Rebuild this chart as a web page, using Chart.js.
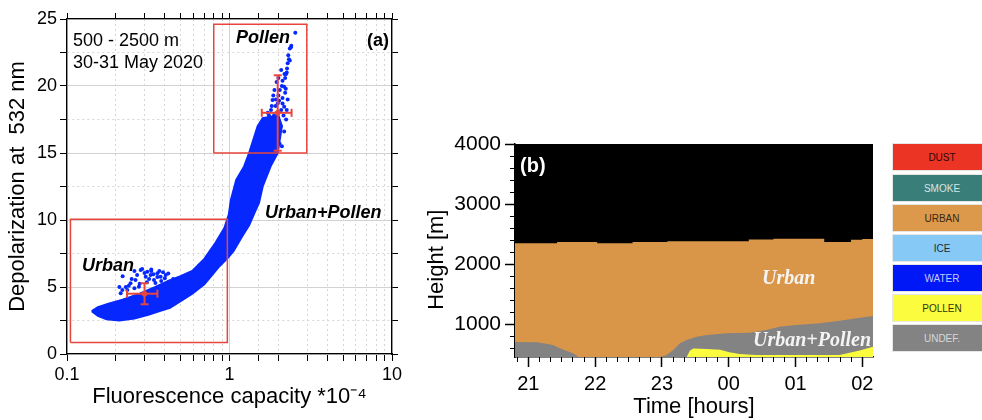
<!DOCTYPE html>
<html lang="en">
<head>
  <meta charset="UTF-8">
  <title>Depolarization vs fluorescence capacity</title>
  <script src="https://cdn.jsdelivr.net/npm/chart.js"></script>
  <style>
    body {
      margin: 0;
      width: 982px;
      height: 420px;
      position: relative;
      overflow: hidden;
      background: #fff;
      font-family: "Liberation Sans", Arial, sans-serif;
    }
    canvas { position: absolute; top: 0; }
    #scatterChart { left: 0; }
    #typingChart { left: 420px; }

    .note { position: absolute; white-space: nowrap; line-height: 1; color: #000; font-size: 18px; }
    .bi { font-weight: bold; font-style: italic; }
    .serif { font-family: "Liberation Serif", "Times New Roman", serif; font-weight: bold; font-style: italic; font-size: 20px; color: #f4f4f4; }

    .legend-box {
      position: absolute;
      left: 892px;
      width: 100px;
      height: 28px;
      display: flex;
      align-items: center;
      justify-content: center;
      font-size: 10px;
      box-sizing: border-box;
      border: 1px solid #e6e6e6;
    }
  </style>
</head>
<body>
  <canvas id="scatterChart" width="420" height="420"></canvas>
  <canvas id="typingChart" width="470" height="420"></canvas>

  <!-- panel (a) notes -->
  <div class="note" style="left:73px; top:31px;">500 - 2500 m</div>
  <div class="note" style="left:73px; top:53px;">30-31 May 2020</div>
  <div class="note" style="left:367px; top:31px; font-weight:bold;">(a)</div>
  <div class="note bi" style="left:236px; top:28px;">Pollen</div>
  <div class="note bi" style="left:265px; top:203px;">Urban+Pollen</div>
  <div class="note bi" style="left:82px; top:256px;">Urban</div>

  <!-- panel (b) notes -->
  <div class="note" style="left:520px; top:155px; font-size:20px; font-weight:bold; color:#fff;">(b)</div>
  <div class="note serif" style="left:762px; top:267px;">Urban</div>
  <div class="note serif" style="left:753px; top:329px;">Urban+Pollen</div>

  <div id="legend"></div>

  <script>
    // ---- panel (a): depolarization vs fluorescence capacity ----
    // outline of the dense point cloud
    const cloudX = [0.142, 0.155, 0.175, 0.21, 0.26, 0.32, 0.38, 0.43, 0.5, 0.59,
                    0.7, 0.86, 0.98, 1.06, 1.2, 1.32, 1.42, 1.52, 1.6, 1.79,
                    1.98, 2.1, 2.0, 1.6, 1.49, 1.32, 1.23, 1.1, 1.02, 0.99,
                    0.93, 0.82, 0.7, 0.59, 0.5, 0.42, 0.35, 0.28, 0.22, 0.18,
                    0.155, 0.142];
    const cloudY = [3.2, 2.85, 2.6, 2.5, 2.65, 2.95, 3.25, 3.45, 3.95, 4.5,
                    5.2, 6.5, 7.2, 7.7, 8.8, 9.6, 10.5, 11.3, 12.5, 14.0,
                    15.0, 17.0, 17.8, 17.6, 17.0, 15.0, 14.0, 13.0, 11.5, 10.4,
                    9.4, 8.3, 7.1, 6.2, 5.8, 5.45, 5.0, 4.5, 4.05, 3.75,
                    3.5, 3.2];

    // single points outside the dense cloud
    const dotX = [0.284, 0.312, 0.327, 0.36, 0.377, 0.405, 0.343, 0.305, 0.264, 0.246,
                  0.277, 0.219, 0.214, 0.235, 0.424, 0.444, 0.29, 0.33, 0.39, 0.22,
                  0.26, 0.35, 0.23, 0.25, 0.27, 0.3, 0.32, 0.34, 0.37, 0.4,
                  0.42, 0.38, 0.31, 0.28, 0.24, 0.21, 0.36, 0.45, 0.33, 0.26,
                  2.54, 2.39, 2.35, 2.28, 2.35, 2.23, 2.12, 2.17, 2.04, 1.89,
                  2.12, 2.2, 1.98, 1.84, 1.8, 2.17, 2.23, 1.76, 1.68, 2.07,
                  1.63, 2.17, 2.03, 1.6, 2.1, 2.3, 2.26, 2.2, 2.1, 1.95,
                  2.0, 1.92, 2.08, 1.88, 2.15, 1.72, 1.95, 2.0, 2.08, 2.28,
                  2.25, 1.7, 1.75, 1.82, 1.86, 1.93, 2.02, 2.12, 2.22, 2.18,
                  2.25, 2.32, 2.4, 1.9, 2.0, 1.85, 1.78];
    const dotY = [6.27, 6.14, 5.9, 6.02, 5.77, 5.9, 5.52, 5.77, 5.52, 5.28,
                  5.02, 4.78, 4.53, 4.78, 5.4, 5.15, 6.35, 6.2, 6.1, 5.8,
                  4.9, 5.3, 5.0, 5.6, 5.9, 6.05, 5.6, 5.95, 6.2, 5.65,
                  6.0, 5.45, 5.35, 5.25, 5.1, 5.0, 5.75, 5.6, 6.3, 6.2,
                  23.98, 22.9, 22.8, 21.7, 21.9, 20.9, 20.4, 19.95, 19.7, 19.7,
                  19.1, 19.5, 18.7, 18.96, 18.2, 18.45, 17.5, 17.5, 17.0, 17.0,
                  16.2, 16.6, 15.7, 15.5, 15.5, 22.3, 21.3, 20.6, 20.0, 20.3,
                  19.3, 18.5, 18.2, 17.8, 17.8, 18.0, 17.3, 20.6, 21.2, 19.0,
                  18.2, 16.9, 17.8, 18.5, 19.3, 19.0, 18.9, 18.7, 19.8, 20.9,
                  21.0, 22.0, 23.0, 17.0, 16.4, 16.1, 16.8];

    // selection boxes [min, max]
    const urbanBoxX = [0.105, 0.97];
    const urbanBoxY = [0.85, 10.05];
    const pollenBoxX = [0.8, 2.99];
    const pollenBoxY = [15.0, 24.6];

    // mean and spread of each type
    const urbanMean = [0.3, 4.5];
    const urbanSpreadX = [0.234, 0.36];
    const urbanSpreadY = [3.71, 5.28];
    const pollenMean = [1.98, 18.0];
    const pollenSpreadX = [1.58, 2.41];
    const pollenSpreadY = [15.17, 20.8];

    // ---- panel (b): aerosol typing, tops of each layer [m] ----
    const urbanTopTime = [20.8, 21.43, 22.03, 22.56, 23.08, 24.3, 24.67, 25.43, 25.83, 26.0, 26.16];
    const urbanTop = [2345, 2365, 2345, 2365, 2380, 2410, 2420, 2365, 2405, 2415, 2430];

    const undefTopTime = [20.8, 21.13, 21.22, 21.37, 21.47, 21.57, 21.67, 21.75, 22.97, 23.07,
                          23.17, 23.27, 23.37, 23.52, 23.67, 23.97, 24.31, 24.56, 24.76, 25.01,
                          25.36, 25.66, 25.91, 26.16];
    const undefTop = [700, 695, 678, 650, 595, 555, 511, 450, 450, 483,
                      567, 678, 733, 789, 817, 845, 856, 900, 956, 983,
                      1011, 1056, 1094, 1133];

    const pollenTopTime = [23.37, 23.42, 23.47, 23.67, 23.87, 24.01, 24.16, 24.41, 25.66, 25.76, 25.96, 26.16];
    const pollenTop = [450, 560, 590, 585, 570, 530, 500, 485, 485, 510, 560, 620];

    const hourTicks = [21, 22, 23, 24, 25, 26];
    const hourLabels = ['21', '22', '23', '00', '01', '02'];
    const heightTicks = [1000, 2000, 3000, 4000];

    const legendNames = ['DUST', 'SMOKE', 'URBAN', 'ICE', 'WATER', 'POLLEN', 'UNDEF.'];
    const legendColors = ['#ec3424', '#3a7e79', '#dc994c', '#86c9f6', '#0018f6', '#fcfc3e', '#838383'];
    const legendText = ['#2a0a08', '#d4e6e3', '#3a2812', '#1e2a3a', '#c2c8ff', '#33330a', '#d8d8d8'];

    const BLUE = '#0628ff';
    const RED = '#e8463d';

    function pts(xs, ys) {
      return xs.map((x, i) => ({ x: x, y: ys[i] }));
    }
    function box(bx, by) {
      return [
        { x: bx[0], y: by[0] }, { x: bx[1], y: by[0] },
        { x: bx[1], y: by[1] }, { x: bx[0], y: by[1] },
        { x: bx[0], y: by[0] }
      ];
    }
    function isPow10(v) {
      const l = Math.log10(v);
      return Math.abs(l - Math.round(l)) < 1e-6;
    }

    function spreadSets(mean, sx, sy) {
      return [
        {
          data: [{ x: sx[0], y: mean[1] }, { x: sx[1], y: mean[1] }],
          showLine: true, borderColor: RED, borderWidth: 2,
          pointStyle: 'line', rotation: 90, pointRadius: 4,
          pointBorderColor: RED, pointBorderWidth: 2
        },
        {
          data: [{ x: mean[0], y: sy[0] }, { x: mean[0], y: sy[1] }],
          showLine: true, borderColor: RED, borderWidth: 2,
          pointStyle: 'line', rotation: 0, pointRadius: 4,
          pointBorderColor: RED, pointBorderWidth: 2
        },
        {
          data: [{ x: mean[0], y: mean[1] }],
          pointRadius: 2.5, backgroundColor: RED, borderColor: RED
        }
      ];
    }

    const font = "'Liberation Sans', Arial, sans-serif";
    Chart.defaults.font.family = font;
    Chart.defaults.color = '#000';

    const minorDash = (c) => (c.tick && !isPow10(c.tick.value)) ? [2, 3] : [];
    const minorDashY = (c) => (c.tick && c.tick.value % 5 !== 0) ? [2, 3] : [];

    new Chart(document.getElementById('scatterChart'), {
      type: 'scatter',
      data: {
        datasets: [
          ...spreadSets(urbanMean, urbanSpreadX, urbanSpreadY),
          ...spreadSets(pollenMean, pollenSpreadX, pollenSpreadY),
          { data: box(urbanBoxX, urbanBoxY), showLine: true, borderColor: RED, borderWidth: 1.5, pointRadius: 0 },
          { data: box(pollenBoxX, pollenBoxY), showLine: true, borderColor: RED, borderWidth: 1.5, pointRadius: 0 },
          { data: pts(dotX, dotY), pointRadius: 2, pointBorderWidth: 0, backgroundColor: BLUE },
          {
            data: pts(cloudX, cloudY), showLine: true, fill: 'shape',
            backgroundColor: BLUE, borderColor: BLUE, borderWidth: 2, pointRadius: 0
          }
        ]
      },
      options: {
        responsive: false,
        animation: false,
        layout: { padding: 0 },
        plugins: { legend: { display: false }, tooltip: { enabled: false } },
        scales: {
          x: {
            type: 'logarithmic', min: 0.1, max: 10, position: 'bottom',
            afterFit: (s) => { s.height = 66; },
            ticks: {
              autoSkip: false, maxRotation: 0, padding: 3, font: { size: 18 },
              callback: (v) => isPow10(v) ? String(v) : ''
            },
            grid: { color: (c) => (c.tick && isPow10(c.tick.value)) ? '#d2d2d2' : '#d6d6d6', tickColor: '#000', tickLength: 7 },
            border: { color: '#000', width: 1.3, dash: minorDash },
            title: { display: true, text: 'Fluorescence capacity *10⁻⁴', font: { size: 22 }, padding: { top: 0, bottom: 10 } }
          },
          x2: {
            type: 'logarithmic', min: 0.1, max: 10, position: 'top',
            afterFit: (s) => { s.height = 19; },
            ticks: { display: false },
            grid: { drawOnChartArea: false, tickColor: '#000', tickLength: 6 },
            border: { color: '#000', width: 1.3 }
          },
          y: {
            min: 0, max: 25, position: 'left',
            afterFit: (s) => { s.width = 67; },
            ticks: { stepSize: 2.5, padding: 3, font: { size: 18 }, callback: (v) => v % 5 === 0 ? v : '' },
            grid: { color: (c) => (c.tick && c.tick.value % 5 === 0) ? '#d2d2d2' : '#d6d6d6', tickColor: '#000', tickLength: 7 },
            border: { color: '#000', width: 1.3, dash: minorDashY },
            title: { display: true, text: 'Depolarization at  532 nm', font: { size: 22 }, padding: { top: 5, bottom: 0 } }
          },
          y2: {
            min: 0, max: 25, position: 'right',
            afterFit: (s) => { s.width = 28; },
            ticks: { display: false, stepSize: 2.5 },
            grid: { drawOnChartArea: false, tickColor: '#000', tickLength: 6 },
            border: { color: '#000', width: 1.3 }
          }
        }
      }
    });

    // black "no signal" background of the typing plot
    const blackArea = {
      id: 'blackArea',
      beforeDatasetsDraw(chart) {
        const a = chart.chartArea;
        chart.ctx.save();
        chart.ctx.fillStyle = '#000';
        chart.ctx.fillRect(a.left, a.top, a.right - a.left, a.bottom - a.top);
        chart.ctx.restore();
      }
    };

    new Chart(document.getElementById('typingChart'), {
      type: 'line',
      data: {
        datasets: [
          { label: 'POLLEN', data: pts(pollenTopTime, pollenTop), fill: 'start', backgroundColor: legendColors[5], borderWidth: 0, pointRadius: 0 },
          { label: 'UNDEF.', data: pts(undefTopTime, undefTop), fill: 'start', backgroundColor: legendColors[6], borderWidth: 0, pointRadius: 0 },
          { label: 'URBAN', data: pts(urbanTopTime, urbanTop), stepped: true, fill: 'start', backgroundColor: '#da9648', borderWidth: 0, pointRadius: 0 }
        ]
      },
      options: {
        responsive: false,
        animation: false,
        layout: { padding: { top: 144, right: 17, left: 0, bottom: 0 } },
        plugins: { legend: { display: false }, tooltip: { enabled: false } },
        scales: {
          x: {
            type: 'linear', min: 20.8, max: 26.16, position: 'bottom', weight: 1, z: 1,
            afterFit: (s) => { s.height = 63; },
            afterBuildTicks: (s) => { s.ticks = hourTicks.map((v) => ({ value: v })); },
            ticks: { autoSkip: false, maxRotation: 0, padding: 5, font: { size: 20 }, callback: (v, i) => hourLabels[i] },
            grid: { drawOnChartArea: false, tickColor: '#000', tickLength: 10, tickWidth: 1.5 },
            border: { color: '#000', width: 1.5 },
            title: { display: true, text: 'Time [hours]', font: { size: 22 }, padding: { top: 0, bottom: 0 } }
          },
          xMinor: {
            type: 'linear', min: 20.8, max: 26.16, position: 'bottom', weight: 0, z: 1,
            afterFit: (s) => { s.height = 0; },
            ticks: { display: false, stepSize: 1 / 6, includeBounds: false },
            grid: { drawOnChartArea: false, tickColor: '#000', tickLength: 5 },
            border: { display: false }
          },
          y: {
            type: 'linear', min: 450, max: 4000, position: 'left', weight: 1,
            afterFit: (s) => { s.width = 95; },
            afterBuildTicks: (s) => { s.ticks = heightTicks.map((v) => ({ value: v })); },
            ticks: { padding: 4, font: { size: 21 }, callback: (v) => String(v) },
            grid: { drawOnChartArea: false, tickColor: '#000', tickLength: 10, tickWidth: 1.5 },
            border: { color: '#000', width: 1.5 },
            title: { display: true, text: 'Height [m]   ', font: { size: 22 }, padding: { top: 4, bottom: 0 } }
          },
          yMinor: {
            type: 'linear', min: 450, max: 4000, position: 'left', weight: 0,
            afterFit: (s) => { s.width = 0; },
            ticks: { display: false, stepSize: 200, includeBounds: false },
            grid: { drawOnChartArea: false, tickColor: '#000', tickLength: 5 },
            border: { display: false }
          }
        }
      },
      plugins: [blackArea]
    });

    // aerosol type colour key
    const legend = document.getElementById('legend');
    const legendTops = [143, 174, 204, 234, 264, 294, 324];
    legendNames.forEach((name, i) => {
      const d = document.createElement('div');
      d.className = 'legend-box';
      d.style.top = legendTops[i] + 'px';
      d.style.background = legendColors[i];
      d.style.color = legendText[i];
      d.textContent = name;
      legend.appendChild(d);
    });
  </script>
</body>
</html>
